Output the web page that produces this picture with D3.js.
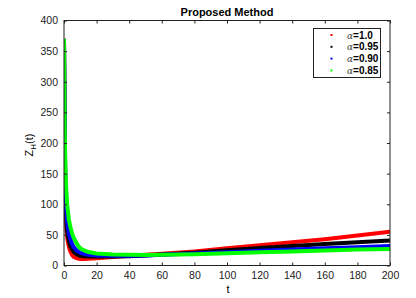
<!DOCTYPE html>
<html lang="en">
<head>
  <meta charset="utf-8">
  <script src="https://d3js.org/d3.v7.min.js"></script>
  <style>
    body { margin: 0; background: #fff; }
    text { font-family: "Liberation Sans", Arial, sans-serif; }
  </style>
</head>
<body>
<script>

var width = 416,
    height = 298;

// time points and the four curves
var tVals = [0, 0.5, 1, 1.5, 2, 3, 4, 5, 6, 8, 10, 12, 15, 20, 30, 40, 50, 60, 80, 100, 120, 140, 160, 180, 200];
var red   = [370, 170, 85, 60, 45, 30, 22, 17, 14, 11.5, 10.5, 10.5, 11, 12, 14, 16, 17.5, 19, 23, 28, 33, 38, 43, 49, 55];
var black = [370, 185, 95, 70, 55, 40, 31, 26, 22, 18, 16, 15, 14.5, 14.5, 14.5, 15, 16.5, 18, 21, 25, 28.5, 32, 35, 38, 41];
var blue  = [370, 195, 110, 85, 70, 52, 42, 35, 30, 24, 21, 19, 17.5, 16.5, 16, 16, 16.5, 17.5, 19.5, 21.5, 24, 26, 28, 30, 32];
var green = [370, 210, 150, 118, 98, 75, 62, 52, 45, 35, 28, 25, 22, 19.5, 18, 17.5, 17, 17.5, 18.5, 20, 21.5, 23, 24.5, 26, 27];

var seriesNames = ["1.0", "0.95", "0.90", "0.85"];
var seriesColors = ["#ff0000", "#000000", "#0000ff", "#00ff00"];
var seriesData = [red, black, blue, green];

var xTicks = [0, 20, 40, 60, 80, 100, 120, 140, 160, 180, 200];
var yTicks = [0, 50, 100, 150, 200, 250, 300, 350, 400];

var margin = {left: 64, right: 26, top: 20.5, bottom: 32.5};
var x0 = margin.left, x1 = width - margin.right,
    y0 = height - margin.bottom, y1 = margin.top;

var x = d3.scaleLinear().domain([0, 200]).range([x0, x1]);
var y = d3.scaleLinear().domain([0, 400]).range([y0, y1]);

var svg = d3.select("body").append("svg")
    .attr("width", width)
    .attr("height", height);

var plot = svg.append("g");

var clip = svg.append("clipPath").attr("id", "clip")
  .append("rect").attr("x", x0).attr("y", y1).attr("width", x1 - x0).attr("height", y0 - y1);

var line = d3.line()
    .x(function(d, i) { return x(tVals[i]); })
    .y(function(d) { return y(d); });

seriesData.forEach(function(s, i) {
  plot.append("path")
      .datum(s)
      .attr("clip-path", "url(#clip)")
      .attr("fill", "none")
      .attr("stroke", seriesColors[i])
      .attr("stroke-width", 4)
      .attr("d", line);
});

// axes box with inward ticks (MATLAB style)
var axisColor = "#222";
svg.append("rect")
    .attr("x", x0).attr("y", y1)
    .attr("width", x1 - x0).attr("height", y0 - y1)
    .attr("fill", "none").attr("stroke", axisColor).attr("stroke-width", 1);

var xAxisB = d3.axisBottom(x).tickValues(xTicks).tickSizeInner(-3).tickSizeOuter(0).tickPadding(6);
var xAxisT = d3.axisTop(x).tickValues(xTicks).tickSizeInner(-3).tickSizeOuter(0).tickFormat("");
var yAxisL = d3.axisLeft(y).tickValues(yTicks).tickSizeInner(-3).tickSizeOuter(0).tickPadding(6);
var yAxisR = d3.axisRight(y).tickValues(yTicks).tickSizeInner(-3).tickSizeOuter(0).tickFormat("");

function styleAxis(g) {
  g.select(".domain").remove();
  g.selectAll("line").attr("stroke", axisColor);
  g.selectAll("text").attr("font-size", 10.5).attr("fill", "#222")
    .attr("font-family", "'Liberation Sans', Arial, sans-serif");
}

svg.append("g").attr("transform", "translate(0," + y0 + ")").call(xAxisB).call(styleAxis);
svg.append("g").attr("transform", "translate(0," + y1 + ")").call(xAxisT).call(styleAxis);
svg.append("g").attr("transform", "translate(" + x0 + ",0)").call(yAxisL).call(styleAxis);
svg.append("g").attr("transform", "translate(" + x1 + ",0)").call(yAxisR).call(styleAxis);

// title and axis labels
svg.append("text")
    .attr("x", (x0 + x1) / 2).attr("y", 16)
    .attr("text-anchor", "middle")
    .attr("font-size", 11).attr("font-weight", "bold")
    .text("Proposed Method");

svg.append("text")
    .attr("x", (x0 + x1) / 2 + 1).attr("y", 293)
    .attr("text-anchor", "middle")
    .attr("font-size", 11)
    .text("t");

var yl = svg.append("text")
    .attr("transform", "translate(33," + ((y0 + y1) / 2 + 2) + ") rotate(-90)")
    .attr("text-anchor", "middle")
    .attr("font-size", 11);
yl.append("tspan").text("Z");
yl.append("tspan").attr("font-size", 8).attr("dy", 3).text("H");
yl.append("tspan").attr("dy", -3).text("(t)");

// legend
var lg = svg.append("g");
lg.append("rect")
    .attr("x", 313.5).attr("y", 28.5).attr("width", 67).attr("height", 49)
    .attr("fill", "#fff").attr("stroke", axisColor).attr("stroke-width", 1);

seriesNames.forEach(function(n, i) {
  var yy = 35 + i * 11.8;
  lg.append("rect")
      .attr("x", 330.5).attr("y", yy - 1).attr("width", 2).attr("height", 2)
      .attr("fill", seriesColors[i]);
  var t = lg.append("text")
      .attr("x", 347).attr("y", yy + 3.5)
      .attr("font-size", 10);
  t.append("tspan").attr("font-family", "'DejaVu Serif', serif").attr("font-style", "italic")
      .attr("font-size", 9).attr("fill", "#444").text("\u03b1");
  t.append("tspan").attr("font-weight", "bold").text("=" + n);
});

</script>
</body>
</html>
